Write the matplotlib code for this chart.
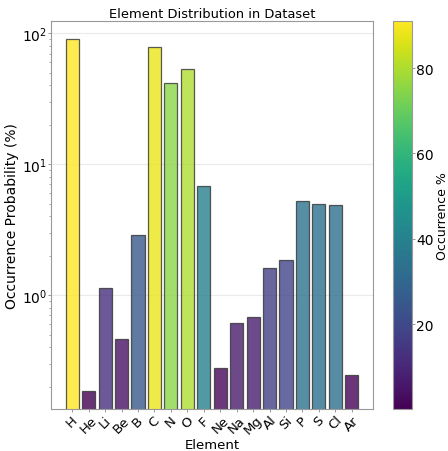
import numpy as np
import matplotlib
matplotlib.use("Agg")
import matplotlib.pyplot as plt
from matplotlib.colors import Normalize
from matplotlib.cm import ScalarMappable

elements = ["H", "He", "Li", "Be", "B", "C", "N", "O", "F", "Ne",
            "Na", "Mg", "Al", "Si", "P", "S", "Cl", "Ar"]
occurrence = [91.0, 0.184, 1.13, 0.46, 2.9, 78.5, 42.0, 53.7, 6.8, 0.277,
              0.61, 0.675, 1.61, 1.87, 5.2, 4.94, 4.92, 0.244]

vals = np.array(occurrence)
cmap = plt.get_cmap("viridis")
lv = np.log1p(vals)
colors = cmap((lv - lv.min()) / (lv.max() - lv.min()))

fig = plt.figure(figsize=(4.48, 4.52), dpi=100)
ax = fig.add_axes([0.1138, 0.0929, 0.7188, 0.8584])
cax = fig.add_axes([0.877, 0.0929, 0.0424, 0.8584])

x = np.arange(len(elements))
ax.bar(x, vals, width=0.8, color=colors, alpha=0.8, edgecolor="#333333", linewidth=0.9)
ax.set_yscale("log")
logv = np.log10(vals)
lo, hi = logv.min(), logv.max()
m = 0.05 * (hi - lo)
ax.set_ylim(10 ** (lo - m), 10 ** (hi + m))
ax.set_xticks(x)
ax.set_xticklabels(elements, rotation=45, fontsize=9.5)
ax.tick_params(axis="both", which="major", length=2, width=0.6, pad=1, color="#888888")
ax.tick_params(axis="both", which="minor", length=1.5, width=0.5, color="#888888")
ax.tick_params(axis="y", labelsize=10)
ax.set_xlabel("Element", fontsize=9.5, labelpad=1)
ax.set_ylabel("Occurrence Probability (%)", fontsize=10, labelpad=2)
ax.set_title("Element Distribution in Dataset", fontsize=9.4, pad=3)
ax.yaxis.grid(True, which="major", color="#dddddd", alpha=0.6, linewidth=0.8)
ax.set_axisbelow(True)
for s in ax.spines.values():
    s.set_color("#999999")

sm = ScalarMappable(cmap=cmap, norm=Normalize(vals.min(), vals.max()))
cb = fig.colorbar(sm, cax=cax)
cb.set_label("Occurrence %", fontsize=9, labelpad=2)
cb.outline.set_edgecolor("#999999")
cb.ax.tick_params(labelsize=10, length=2, width=0.6, pad=1, color="#888888")

fig.savefig("out.png", dpi=100)
